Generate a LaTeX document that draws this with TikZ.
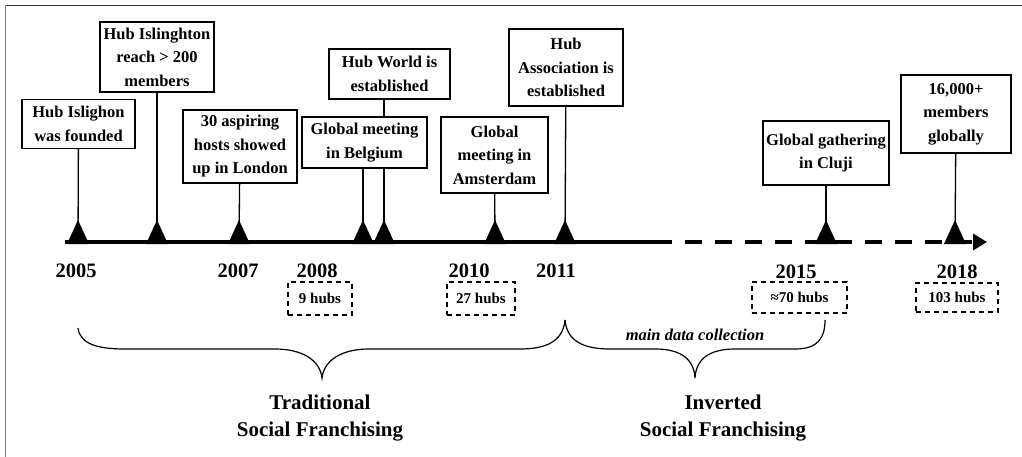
\documentclass[tikz,border=0pt]{standalone}
\usepackage{fontspec}
\setmainfont{Liberation Serif}
\usetikzlibrary{arrows.meta}

\tikzset{
  event/.style={draw, line width=1.4pt, fill=white, align=center, inner sep=2pt,
    font=\fontsize{16.5}{23.5}\selectfont\bfseries},
  hubs/.style={draw, line width=1.2pt, dash pattern=on 5pt off 4pt, inner sep=2pt,
    font=\fontsize{15}{18}\selectfont\bfseries},
  year/.style={font=\fontsize{20.5}{24}\selectfont\bfseries},
  phase/.style={align=center, font=\fontsize{21}{27}\selectfont\bfseries},
  stem/.style={line width=1.3pt},
  brace/.style={line width=1.2pt},
}

\begin{document}
\begin{tikzpicture}[x=1pt, y=-1pt]
  \useasboundingbox (0,0) rectangle (1022,457);
  % frame
  \draw[gray, line width=1.5pt] (5.5,457) -- (5.5,5.5);
  \draw[black!80, line width=1.5pt] (5.5,5.5) -- (1022,5.5);

  % time line
  \coordinate (start) at (65,242);
  \coordinate (dash) at (672,242);
  \coordinate (end) at (987,242);
  \draw[line width=4pt] (start) -- (dash);
  \draw[line width=4pt, dash pattern=on 17pt off 13pt, dash phase=17pt,
    -{Triangle[length=14pt, width=16pt]}] (dash) -- (end);

  % ticks
  \foreach \x/\n in {78/05, 157/06, 239/07, 363/08a, 384/08b, 495/10, 565/11, 826/15, 955/18}{
    \coordinate (t\n) at (\x,242);
    \fill (t\n) ++(-11,2) -- ++(11,-24) -- ++(11,24) -- cycle;
  }

  % events
  \node[event, minimum width=113pt, minimum height=49pt] (found) at (78.5,124) {Hub Islighon\\was founded};
  \node[event, minimum width=114pt, minimum height=70pt] (reach) at (157,57) {Hub Islinghton\\reach > 200\\members};
  \node[event, minimum width=114pt, minimum height=73pt] (london) at (240,146.5) {30 aspiring\\hosts showed\\up in London};
  \node[event, minimum width=125pt, minimum height=51pt] (belgium) at (364.5,142.5) {Global meeting\\in Belgium};
  \node[event, minimum width=121pt, minimum height=50pt] (world) at (389.5,74) {Hub World is\\established};
  \node[event, minimum width=107pt, minimum height=76pt] (amsterdam) at (494.5,155) {Global\\meeting in\\Amsterdam};
  \node[event, minimum width=114pt, minimum height=77pt] (assoc) at (566,67.5) {Hub\\Association is\\established};
  \node[event, minimum width=126pt, minimum height=64pt] (cluji) at (826,153) {Global gathering\\in Cluji};
  \node[event, minimum width=110pt, minimum height=78pt] (members) at (956,114) {16,000+\\members\\globally};

  \draw[stem] (found) -- (t05);
  \draw[stem] (reach) -- (t06);
  \draw[stem] (london) -- (t07);
  \draw[stem] (t08a |- belgium.south) -- (t08a);
  \draw[stem] (t08b |- world.south) -- (t08b |- belgium.north);
  \draw[stem] (t08b |- belgium.south) -- (t08b);
  \draw[stem] (amsterdam) -- (t10);
  \draw[stem] (assoc) -- (t11);
  \draw[stem] (cluji) -- (t15);
  \draw[stem] (members) -- (t18);

  % years and hubs
  \node[year] (y05) at (76,271) {2005};
  \node[year] (y07) at (238,271) {2007};
  \node[year] (y08) at (317,271) {2008};
  \node[year] (y10) at (469,271) {2010};
  \node[year] (y11) at (556,271) {2011};
  \node[year] (y15) at (796,272) {2015};
  \node[year] (y18) at (957,272) {2018};

  \node[hubs, minimum width=64pt, minimum height=33pt] (h08) at (320,298.5) {9 hubs};
  \node[hubs, minimum width=68pt, minimum height=33pt] (h10) at (481,298.5) {27 hubs};
  \node[hubs, minimum width=95pt, minimum height=31pt] (h15) at (799.5,297.5) {≈70 hubs};
  \node[hubs, minimum width=82pt, minimum height=29pt] (h18) at (957,297.5) {103 hubs};

  % braces
  \draw[brace] (78,328) .. controls (80,345) and (100,349) .. (125,349) -- (275,349)
    .. controls (302,349) and (320,360) .. (322,378)
    .. controls (324,360) and (342,349) .. (369,349) -- (520,349)
    .. controls (545,349) and (563,342) .. (565,320);
  \draw[brace] (565,320) .. controls (567,342) and (585,349) .. (610,349) -- (655,349)
    .. controls (682,349) and (694,360) .. (695,378)
    .. controls (696,360) and (708,349) .. (735,349) -- (795,349)
    .. controls (818,349) and (825,338) .. (825,320);

  \node[font=\fontsize{16.5}{20}\selectfont\bfseries\itshape] (data) at (695,335) {main data collection};
  \node[phase] (trad) at (320,418.5) {Traditional\\Social Franchising};
  \node[phase] (inv) at (723,418.5) {Inverted\\Social Franchising};
\end{tikzpicture}
\end{document}
